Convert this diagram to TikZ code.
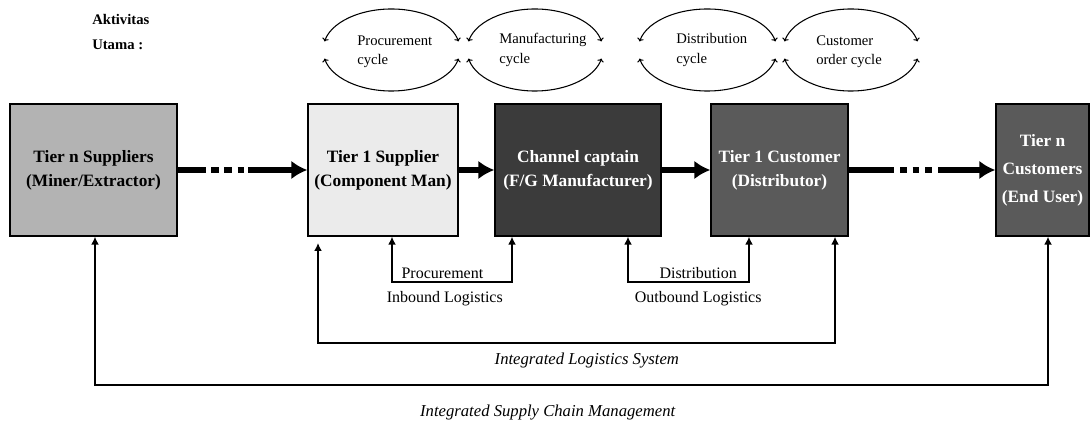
\documentclass[tikz,border=0pt]{standalone}
\usepackage{fontspec}
\setmainfont{Liberation Serif}
\usepackage{tikz}
\usetikzlibrary{arrows.meta,calc,positioning}
\definecolor{tiernfill}{HTML}{B3B3B3}
\definecolor{tieronefill}{HTML}{EBEBEB}
\definecolor{captainfill}{HTML}{3B3B3B}
\definecolor{customerfill}{HTML}{5A5A5A}
\tikzstyle{tier}=[rectangle,draw=black,line width=1pt,minimum height=99pt,align=center,inner sep=1pt,font=\fontsize{13}{18}\selectfont\bfseries]
\tikzstyle{flow}=[line width=4.5pt,-{Latex[length=12pt,width=14pt]}]
\tikzstyle{link}=[line width=1.6pt,{Latex[length=6pt,width=6pt]}-{Latex[length=6pt,width=6pt]}]
\tikzstyle{cyc}=[line width=0.8pt,{To[length=2.5pt,width=5pt]}-{To[length=2.5pt,width=5pt]}]
\tikzstyle{cyctext}=[font=\fontsize{11}{14.5}\selectfont,align=left,anchor=west,inner sep=0pt]
\tikzstyle{lbl}=[font=\fontsize{12}{14}\selectfont,inner sep=2pt]
\tikzstyle{ital}=[font=\fontsize{12.5}{14}\selectfont\itshape,inner sep=2pt]

\begin{document}
\begin{tikzpicture}[x=0.75pt,y=-0.75pt]
	\useasboundingbox (0,0) rectangle (1092,423);
	% chain of tiers
	\node[tier,fill=tiernfill,minimum width=125.25pt] (supn) at (93.5,170) {Tier n Suppliers\\(Miner/Extractor)};
	\node[tier,fill=tieronefill,minimum width=112.5pt] (sup1) at (383,170) {Tier 1 Supplier\\(Component Man)};
	\node[tier,fill=captainfill,text=white,minimum width=124.5pt] (cap) at (578,170) {Channel captain\\(F/G Manufacturer)};
	\node[tier,fill=customerfill,text=white,minimum width=102.75pt] (cus1) at (779.5,170) {Tier 1 Customer\\(Distributor)};
	\node[tier,fill=customerfill,text=white,minimum width=69.75pt] (cusn) at (1042.5,170) {Tier n\\[3pt]Customers\\[3pt](End User)};
	\draw[flow,dash pattern=on 21pt off 4pt on 6pt off 4pt on 6pt off 4pt on 5pt off 3pt on 200pt] (supn) -- (sup1);
	\draw[flow] (sup1) -- (cap);
	\draw[flow] (cap) -- (cus1);
	\draw[flow,dash pattern=on 34pt off 4.5pt on 5pt off 4.5pt on 5pt off 4.5pt on 5pt off 4.5pt on 200pt] (cus1) -- (cusn);
	% aktivitas utama
	\node[font=\fontsize{11}{19}\selectfont\bfseries,align=left,anchor=north west,inner sep=0pt] (aktivitas) at (92,14) {Aktivitas\\Utama :};
	\coordinate (proc) at (391.5,50);
	\coordinate (manu) at (535,50);
	\coordinate (dist) at (707.5,50);
	\coordinate (order) at (851,50);
	\draw[cyc] ($(proc)+(168:68.5 and 41)$) arc[start angle=168,end angle=12,x radius=68.5,y radius=41];
	\draw[cyc] ($(proc)+(192:68.5 and 41)$) arc[start angle=192,end angle=348,x radius=68.5,y radius=41];
	\draw[cyc] ($(manu)+(168:68 and 41)$) arc[start angle=168,end angle=12,x radius=68,y radius=41];
	\draw[cyc] ($(manu)+(192:68 and 41)$) arc[start angle=192,end angle=348,x radius=68,y radius=41];
	\draw[cyc] ($(dist)+(168:69.5 and 41)$) arc[start angle=168,end angle=12,x radius=69.5,y radius=41];
	\draw[cyc] ($(dist)+(192:69.5 and 41)$) arc[start angle=192,end angle=348,x radius=69.5,y radius=41];
	\draw[cyc] ($(order)+(168:68 and 41)$) arc[start angle=168,end angle=12,x radius=68,y radius=41];
	\draw[cyc] ($(order)+(192:68 and 41)$) arc[start angle=192,end angle=348,x radius=68,y radius=41];
	\node[cyctext] (proctext) at (357,52) {Procurement\\cycle};
	\node[cyctext] (manutext) at (499,50) {Manufacturing\\cycle};
	\node[cyctext] (disttext) at (676,50) {Distribution\\cycle};
	\node[cyctext] (ordertext) at (816,52) {Customer\\order cycle};
	% logistics loops
	\coordinate (procl) at (392,282);
	\coordinate (procr) at (512,282);
	\draw[link] (sup1.south -| procl) -- (procl) -- node[lbl,above,pos=0.42] {Procurement} node[lbl,below=4pt,pos=0.44] {Inbound Logistics} (procr) -- (cap.south -| procr);
	\coordinate (distl) at (628,282);
	\coordinate (distr) at (749,282);
	\draw[link] (cap.south -| distl) -- (distl) -- node[lbl,above,pos=0.58] {Distribution} node[lbl,below=4pt,pos=0.58] {Outbound Logistics} (distr) -- (cus1.south -| distr);
	\coordinate (ilsl) at (318,243);
	\coordinate (ilsr) at (835,343);
	\draw[link] (ilsl) -- (ilsl |- ilsr) -- node[ital,below=5pt,pos=0.52] {Integrated Logistics System} (ilsr) -- (cus1.south -| ilsr);
	\coordinate (iscml) at (95,385);
	\coordinate (iscmr) at (1048,385);
	\draw[link] (supn.south -| iscml) -- (iscml) -- node[ital,below=12pt,pos=0.475] {Integrated Supply Chain Management} (iscmr) -- (cusn.south -| iscmr);
\end{tikzpicture}
\end{document}
